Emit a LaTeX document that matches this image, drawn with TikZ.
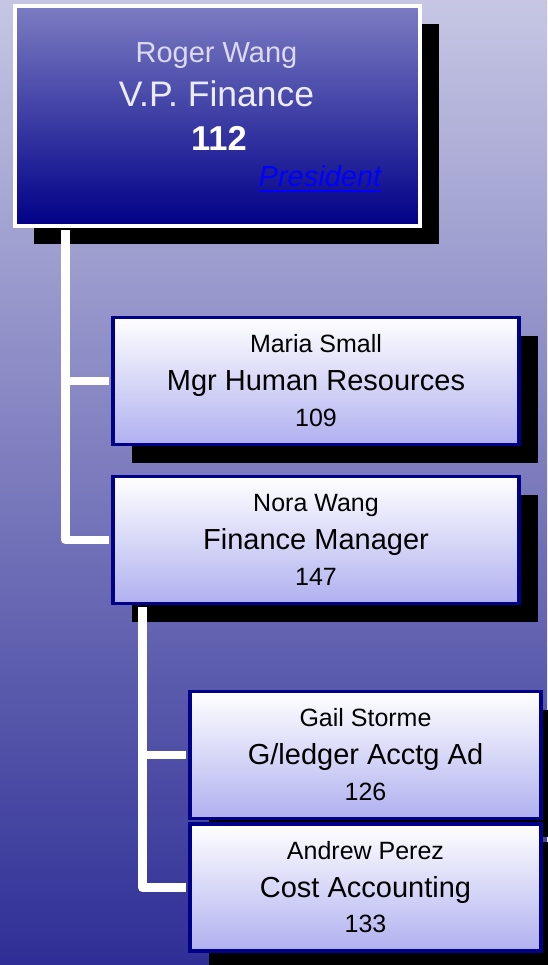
\documentclass[tikz,border=0pt]{standalone}
\usepackage{fontspec}
\setmainfont{Liberation Sans}
\usetikzlibrary{shadows}

\definecolor{bgtop}{RGB}{198,198,228}
\definecolor{bgbot}{RGB}{46,46,150}
\definecolor{headtop}{RGB}{124,124,194}
\definecolor{navy}{RGB}{0,0,136}
\definecolor{boxbot}{RGB}{176,176,240}
\definecolor{namegray}{RGB}{218,218,242}
\definecolor{linkblue}{RGB}{0,0,255}

\begin{document}
\begin{tikzpicture}[x=1pt, y=-1pt,
  headbox/.style={draw=white, line width=4pt, top color=headtop, bottom color=navy,
    minimum width=405pt, minimum height=220pt, inner sep=0pt,
    drop shadow={fill=black, opacity=1, shadow xshift=19pt, shadow yshift=-18pt}},
  childbox/.style={draw=navy, line width=3.5pt, top color=white, bottom color=boxbot,
    minimum height=127pt, inner sep=0pt,
    drop shadow={fill=black, opacity=1, shadow xshift=19pt, shadow yshift=-18pt}},
  conn/.style={draw=white, line width=8.5pt, line join=round, shorten <=2pt, shorten >=2pt},
  nametext/.style={anchor=base, inner sep=0pt, font=\fontsize{25}{30}\selectfont},
  titletext/.style={anchor=base, inner sep=0pt, font=\fontsize{29}{34}\selectfont},
  numtext/.style={anchor=base, inner sep=0pt, font=\fontsize{25}{30}\selectfont}]

\useasboundingbox (0,0) rectangle (547,965);
\shade [top color=bgtop, bottom color=bgbot] (0,0) rectangle (547,965);

% boxes
\node [headbox] (vp) at (217.5,116) {};
\node [childbox, minimum width=406pt] (hr) at (316,381) {};
\node [childbox, minimum width=406pt] (nora) at (316,540) {};
\node [childbox, minimum width=351pt] (gail) at (365.5,755) {};
\node [childbox, minimum width=351pt] (andrew) at (365.5,887.5) {};

% lines
\draw [conn] ([xshift=52.5pt]vp.south west) |- (hr.west);
\draw [conn] ([xshift=52.5pt]vp.south west) |- (nora.west);
\draw [conn] ([xshift=31pt]nora.south west) |- (gail.west);
\draw [conn] ([xshift=31pt]nora.south west) |- (andrew.west);

% head text
\node [anchor=base, inner sep=0pt, text=namegray, font=\fontsize{29}{33}\selectfont] (vpname) at (216.5,63) {Roger Wang};
\node [anchor=base, inner sep=0pt, text=white!92!blue, font=\fontsize{35.5}{40}\selectfont] (vptitle) at (216.5,107) {V.P. Finance};
\node [anchor=base, inner sep=0pt, text=white, font=\fontsize{34.5}{40}\selectfont\bfseries] (vpnum) at (219,151) {112};
\node [anchor=base, inner sep=0pt, text=linkblue, font=\fontsize{29}{33}\selectfont\itshape] (vplink) at (320,187) {President};
\draw [linkblue, line width=2.5pt] ([yshift=-4pt]vplink.base west) -- ([yshift=-4pt]vplink.base east);

% child text
\node [nametext] (hrname) at ([yshift=28.5pt]hr.center) {Maria Small};
\node [titletext] (hrtitle) at ([yshift=-9.5pt]hr.center) {Mgr Human Resources};
\node [numtext] (hrnum) at ([yshift=-45pt]hr.center) {109};

\node [nametext] (noraname) at ([yshift=28.5pt]nora.center) {Nora Wang};
\node [titletext] (noratitle) at ([yshift=-9.5pt]nora.center) {Finance Manager};
\node [numtext] (noranum) at ([yshift=-45pt]nora.center) {147};

\node [nametext] (gailname) at ([yshift=28.5pt]gail.center) {Gail Storme};
\node [titletext] (gailtitle) at ([yshift=-9.5pt]gail.center) {G/ledger Acctg Ad};
\node [numtext] (gailnum) at ([yshift=-45pt]gail.center) {126};

\node [nametext] (andrewname) at ([yshift=28.5pt]andrew.center) {Andrew Perez};
\node [titletext] (andrewtitle) at ([yshift=-9.5pt]andrew.center) {Cost Accounting};
\node [numtext] (andrewnum) at ([yshift=-45pt]andrew.center) {133};
\end{tikzpicture}
\end{document}
